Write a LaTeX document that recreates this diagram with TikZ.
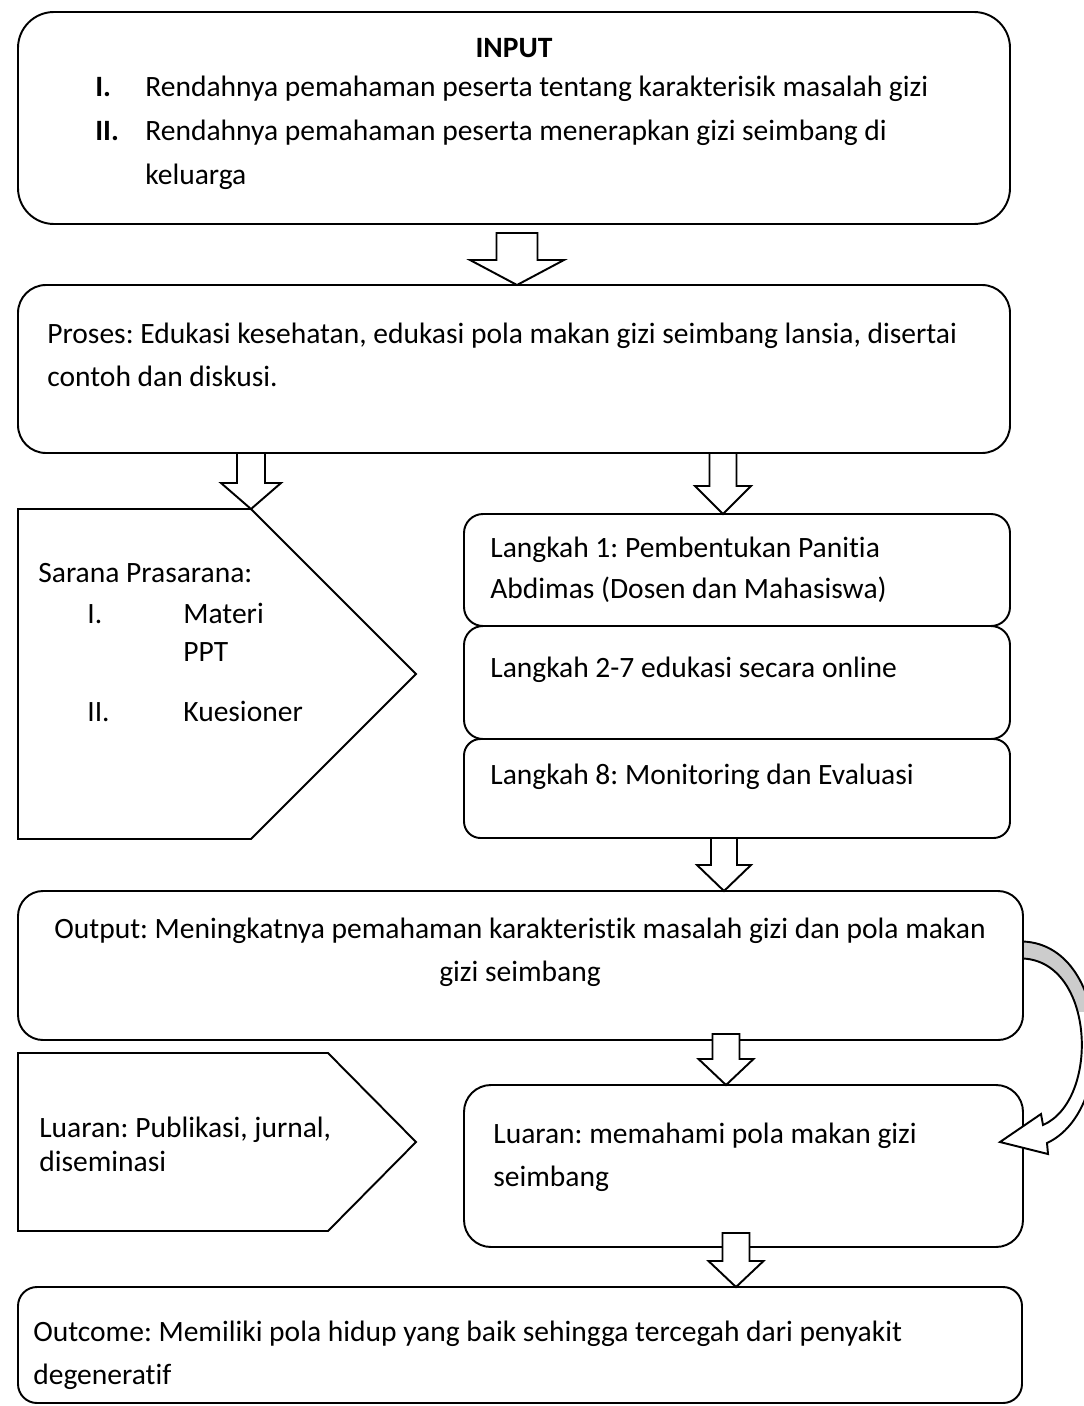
\documentclass[tikz,border=0pt]{standalone}
\usepackage{fontspec}
\setmainfont{Carlito}[Ligatures=NoCommon]
\frenchspacing
\usetikzlibrary{calc,fit}

\tikzset{
  box/.style={draw, line width=1.1pt, inner sep=0pt, outer sep=0pt, fill=white},
  shp/.style={draw, line width=1.1pt, fill=white, line join=miter},
  arr/.style={draw, line width=1.1pt, fill=white, line join=miter},
  txt/.style={anchor=base west, inner sep=0pt, font=\fontsize{16.8}{20}\selectfont},
  ctxt/.style={anchor=base, inner sep=0pt, font=\fontsize{16.8}{20}\selectfont}
}

% block arrow: shaft half width, head half width, head length, top, tip
\newcommand{\blockarr}[5]{%
  \draw[arr] ($(#4)+(-#1,0)$) -- ($(#5)+(-#1,-#3)$) -- ($(#5)+(-#2,-#3)$) -- (#5)
    -- ($(#5)+(#2,-#3)$) -- ($(#5)+(#1,-#3)$) -- ($(#4)+(#1,0)$) -- cycle;}

\begin{document}
\begin{tikzpicture}[x=0.02cm, y=-0.02cm]
    \useasboundingbox (0,0) rectangle (1083,1406);

    \node[box, rounded corners=0.72cm, fit={(18,12) (1010,224)}] (input) {};
    \node[box, rounded corners=0.56cm, fit={(18,285) (1010,453)}] (proses) {};
    \node[box, rounded corners=0.38cm, fit={(464,514) (1010,626)}] (langkahA) {};
    \node[box, rounded corners=0.38cm, fit={(464,626) (1010,739)}] (langkahB) {};
    \node[box, rounded corners=0.33cm, fit={(464,739) (1010,838)}] (langkahC) {};
    \node[box, rounded corners=0.5cm, fit={(18,891) (1023,1040)}] (output) {};
    \node[box, rounded corners=0.54cm, fit={(464,1085) (1023,1247)}] (luaran) {};
    \node[box, rounded corners=0.38cm, fit={(18,1287) (1022,1403)}] (outcome) {};

    \coordinate (saranaTop) at (251,509);
    \coordinate (publikTop) at (328,1053);
    \draw[shp] (18,509) -- (saranaTop) -- (416,674) -- (251,839) -- (18,839) -- cycle;
    \draw[shp] (18,1053) -- (publikTop) -- (416,1142) -- (328,1231) -- (18,1231) -- cycle;

    \node[txt, anchor=base, font=\fontsize{16.8}{20}\selectfont\bfseries] (inputHead) at (514,58) {INPUT};
    \node[txt, font=\fontsize{16.8}{20}\selectfont\bfseries] (inputNumI) at (95,97) {I.};
    \node[txt] (inputI) at (145,97) {Rendahnya pemahaman peserta tentang karakterisik masalah gizi};
    \node[txt, font=\fontsize{16.8}{20}\selectfont\bfseries] (inputNumII) at (95,140) {II.};
    \node[txt] (inputII) at (145,140) {Rendahnya pemahaman peserta menerapkan gizi seimbang di};
    \node[txt] (inputIIb) at (145,184) {keluarga};

    \node[txt] (prosesA) at (47,343) {Proses: Edukasi kesehatan, edukasi pola makan gizi seimbang lansia, disertai};
    \node[txt] (prosesB) at (47,386) {contoh dan diskusi.};

    \node[txt] (sarana) at (38,582) {Sarana Prasarana:};
    \node[txt] (saranaNumI) at (87,623) {I.};
    \node[txt] (saranaI) at (183,623) {Materi};
    \node[txt] (saranaIb) at (183,661) {PPT};
    \node[txt] (saranaNumII) at (87,721) {II.};
    \node[txt] (saranaII) at (183,721) {Kuesioner};

    \node[txt] (langkahAa) at (490,557) {Langkah 1: Pembentukan Panitia};
    \node[txt] (langkahAb) at (490,598) {Abdimas (Dosen dan Mahasiswa)};
    \node[txt] (langkahBa) at (490,677) {Langkah 2-7 edukasi secara online};
    \node[txt] (langkahCa) at (490,784) {Langkah 8: Monitoring dan Evaluasi};

    \node[ctxt] (outputA) at (520,938) {Output: Meningkatnya pemahaman karakteristik masalah gizi dan pola makan};
    \node[ctxt] (outputB) at (520,981) {gizi seimbang};

    \node[txt] (publikA) at (39,1137) {Luaran: Publikasi, jurnal,};
    \node[txt] (publikB) at (39,1171) {diseminasi};
    \node[txt] (luaranA) at (493,1143) {Luaran: memahami pola makan gizi};
    \node[txt] (luaranB) at (493,1186) {seimbang};

    \node[txt] (outcomeA) at (33,1341) {Outcome: Memiliki pola hidup yang baik sehingga tercegah dari penyakit};
    \node[txt] (outcomeB) at (33,1384) {degeneratif};

    \coordinate (colA) at (517,0);
    \coordinate (colB) at (251,0);
    \coordinate (colC) at (723,0);
    \coordinate (colD) at (724,0);
    \coordinate (colE) at (726,0);
    \coordinate (colF) at (736,0);
    \coordinate (a1) at ($(input.south -| colA)+(0,9)$);
    \coordinate (a5) at ($(output.south -| colE)+(0,-6)$);
    \coordinate (a6) at ($(luaran.south -| colF)+(0,-14)$);
    \blockarr{20.5}{47}{25}{a1}{proses.north -| colA}
    \blockarr{14}{30}{26}{proses.south -| colB}{saranaTop}
    \blockarr{13.5}{28}{28}{proses.south -| colC}{langkahA.north -| colC}
    \blockarr{13}{27}{26}{langkahC.south -| colD}{output.north -| colD}
    \blockarr{13.5}{27.5}{26}{a5}{luaran.north -| colE}
    \blockarr{13.5}{27.5}{26}{a6}{outcome.north -| colF}

    \coordinate (cs1) at ($(output.east)+(0,-24)$);
    \coordinate (cs2) at ($(output.east)+(0,-7)$);
    \coordinate (ctip) at ($(luaran.east)+(-23,-24)$);
    \draw[arr, path picture={\fill[gray!40] (990,925) rectangle (1120,1012);}]
        (cs1) .. controls (1110,945) and (1118,1110) .. (1047,1143) -- (1048,1154) -- (ctip)
        -- (1041,1114) -- (1043,1125) .. controls (1100,1100) and (1095,962) .. (cs2) -- cycle;
\end{tikzpicture}
\end{document}
